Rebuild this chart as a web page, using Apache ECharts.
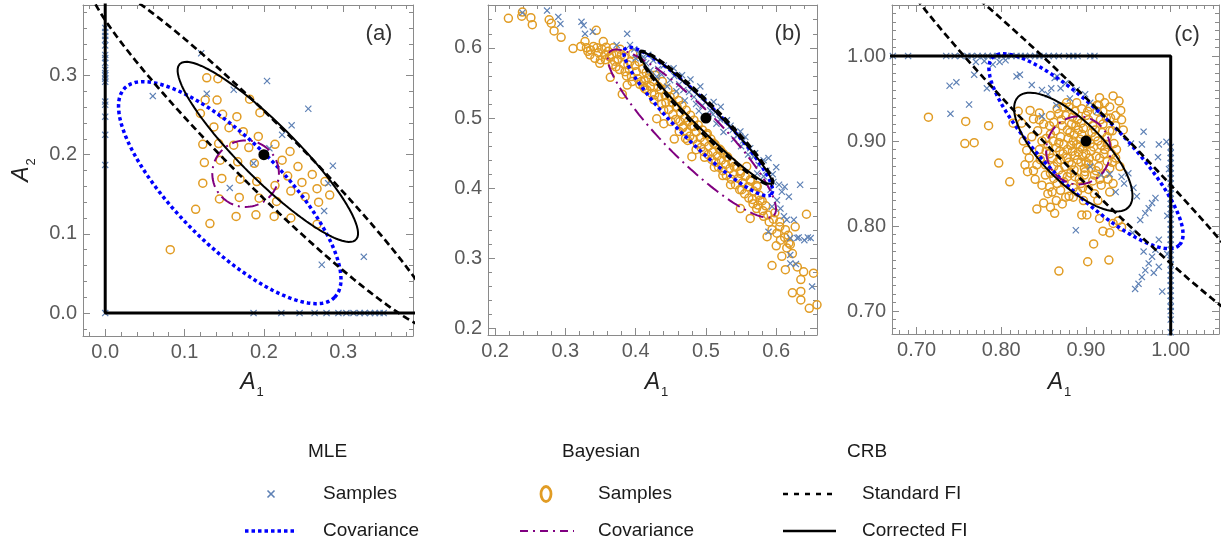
<!DOCTYPE html>
<html><head><meta charset="utf-8">
<script src="https://cdn.jsdelivr.net/npm/echarts@6/dist/echarts.min.js"></script>
<style>html,body{margin:0;padding:0;background:#fff}#c{width:1231px;height:546px}</style>
</head><body><div id="c"></div>
<script>
// ---------- tick labels ----------
const ticksA = [0.0, 0.1, 0.2, 0.3];
const ticksB = [0.2, 0.3, 0.4, 0.5, 0.6];
const ticksC = [0.70, 0.80, 0.90, 1.00];
const panelLabels = ['(a)', '(b)', '(c)'];

// ---------- panel (a) ----------
const mleA = [
[0,0],[0,0.187],[0,0.225],[0,0.248],[0,0.263],[0,0.267],[0,0.292],[0,0.296],[0,0.300],[0,0.303],[0,0.307],[0,0.316],[0,0.322],[0,0.326],[0,0.338],[0,0.345],[0,0.350],[0,0.355],[0,0.360],
[0.187,0],[0.222,0],[0.245,0],[0.264,0],[0.279,0],[0.294,0],[0.304,0],[0.313,0],[0.321,0],[0.327,0],[0.334,0],[0.340,0],[0.346,0],[0.351,0],
[0.121,0.328],[0.128,0.277],[0.060,0.274],[0.162,0.282],[0.204,0.293],[0.256,0.258],[0.235,0.237],[0.223,0.225],[0.207,0.208],[0.187,0.189],[0.157,0.158],[0.287,0.186],[0.276,0.129],[0.273,0.061],[0.326,0.071],[0.281,0.164]
];
const bayesA = [
[0.128,0.297],[0.142,0.296],[0.126,0.269],[0.141,0.269],[0.120,0.252],[0.148,0.251],[0.166,0.248],[0.182,0.270],[0.195,0.253],[0.137,0.235],
[0.156,0.234],[0.174,0.229],[0.193,0.223],[0.123,0.213],[0.143,0.214],[0.162,0.212],[0.181,0.209],[0.214,0.213],[0.125,0.190],[0.145,0.193],
[0.167,0.191],[0.188,0.189],[0.223,0.193],[0.233,0.204],[0.243,0.185],[0.123,0.164],[0.147,0.170],[0.170,0.169],[0.191,0.166],[0.214,0.161],
[0.230,0.173],[0.248,0.165],[0.261,0.175],[0.277,0.166],[0.267,0.157],[0.283,0.149],[0.144,0.144],[0.169,0.146],[0.194,0.145],[0.216,0.141],
[0.234,0.154],[0.252,0.147],[0.269,0.140],[0.114,0.131],[0.132,0.113],[0.165,0.122],[0.190,0.124],[0.213,0.122],[0.234,0.120],[0.267,0.112],
[0.082,0.080]
];
// ellipses: [cx, cy, semi-major, semi-minor, angle(deg)]
const covMleA = [0.157, 0.152, 0.187, 0.066, -45];
const covBayesA = [0.177, 0.176, 0.042, 0.042, 0];
const stdFiA = [0.200, 0.200, 0.310, 0.0396, -45];
const corFiA = [0.205, 0.2035, 0.157, 0.035, -45];
const boundA = [[0, 0.45], [0, 0], [0.45, 0]];
const trueA = [[0.2, 0.2]];

// ---------- panel (b) ----------
const mleB = [
[0.239,0.650],[0.274,0.653],[0.290,0.644],[0.293,0.634],[0.323,0.637],[0.326,0.632],[0.339,0.623],[0.328,0.620],[0.388,0.620],[0.373,0.604],
[0.392,0.604],[0.411,0.587],[0.398,0.598],[0.405,0.592],[0.418,0.590],[0.425,0.582],[0.440,0.575],[0.454,0.571],[0.466,0.561],[0.478,0.555],
[0.492,0.545],[0.497,0.530],[0.511,0.523],[0.521,0.516],[0.535,0.489],[0.549,0.481],[0.556,0.473],[0.563,0.457],[0.582,0.440],[0.589,0.443],
[0.596,0.409],[0.604,0.405],[0.618,0.388],[0.634,0.405],[0.649,0.329],[0.632,0.330],[0.620,0.329],[0.611,0.360],[0.615,0.355],[0.606,0.371],
[0.620,0.305],[0.620,0.293],[0.628,0.292],[0.651,0.260],[0.601,0.383],[0.592,0.398],[0.582,0.417],[0.573,0.421],[0.568,0.445],[0.530,0.497],
[0.506,0.511],[0.483,0.530],[0.468,0.540],[0.449,0.554],[0.430,0.559],[0.421,0.568],[0.445,0.545],[0.458,0.538],[0.470,0.525],[0.490,0.510],
[0.500,0.502],[0.515,0.492],[0.525,0.480],[0.540,0.470],[0.550,0.460],[0.560,0.448],[0.575,0.433],[0.586,0.425],[0.462,0.548],[0.476,0.537],
[0.486,0.520],[0.495,0.518],[0.510,0.505],[0.520,0.498],[0.538,0.483],[0.545,0.476],[0.553,0.468],[0.570,0.450],[0.595,0.420],[0.608,0.395],
[0.589,0.338],[0.594,0.374],[0.625,0.355],[0.630,0.329],[0.400,0.585],[0.432,0.570],[0.415,0.578],[0.437,0.562],[0.455,0.560],[0.600,0.430],
[0.612,0.402],[0.640,0.326],[0.645,0.330]
];
const bayesB = [
[0.219,0.642],[0.239,0.651],[0.238,0.645],[0.251,0.643],[0.253,0.633],[0.277,0.640],[0.280,0.635],[0.284,0.624],[0.294,0.615],[0.311,0.599],
[0.322,0.602],[0.328,0.609],[0.332,0.595],[0.340,0.602],[0.344,0.625],[0.342,0.585],[0.349,0.578],[0.354,0.609],[0.356,0.590],[0.361,0.595],
[0.366,0.590],[0.373,0.592],[0.375,0.583],[0.380,0.590],[0.364,0.558],[0.381,0.534],[0.388,0.547],[0.385,0.566],[0.389,0.576],[0.394,0.559],
[0.401,0.566],[0.408,0.552],[0.413,0.542],[0.418,0.557],[0.423,0.535],[0.336,0.597],[0.345,0.600],[0.350,0.583],[0.358,0.601],[0.368,0.600],
[0.370,0.581],[0.378,0.598],[0.384,0.587],[0.392,0.580],[0.396,0.592],[0.399,0.575],[0.405,0.580],[0.410,0.570],[0.415,0.565],[0.420,0.562],
[0.425,0.552],[0.428,0.561],[0.432,0.545],[0.436,0.540],[0.438,0.552],[0.442,0.532],[0.446,0.541],[0.449,0.530],[0.452,0.522],[0.455,0.533],
[0.458,0.516],[0.461,0.525],[0.464,0.508],[0.466,0.518],[0.470,0.500],[0.472,0.511],[0.475,0.495],[0.478,0.504],[0.480,0.488],[0.483,0.497],
[0.486,0.480],[0.489,0.490],[0.492,0.472],[0.495,0.483],[0.498,0.466],[0.501,0.476],[0.504,0.460],[0.507,0.470],[0.510,0.452],[0.513,0.462],
[0.516,0.446],[0.519,0.456],[0.522,0.440],[0.525,0.449],[0.528,0.434],[0.531,0.444],[0.534,0.428],[0.537,0.437],[0.540,0.420],[0.543,0.430],
[0.546,0.414],[0.549,0.424],[0.552,0.408],[0.556,0.417],[0.560,0.402],[0.564,0.410],[0.568,0.396],[0.572,0.404],[0.576,0.390],[0.580,0.382],
[0.585,0.375],[0.440,0.511],[0.430,0.499],[0.440,0.492],[0.426,0.526],[0.411,0.545],[0.459,0.516],[0.468,0.488],[0.471,0.471],[0.483,0.488],
[0.502,0.478],[0.511,0.464],[0.521,0.454],[0.530,0.445],[0.540,0.431],[0.549,0.421],[0.558,0.431],[0.563,0.412],[0.573,0.402],[0.551,0.398],
[0.577,0.383],[0.549,0.371],[0.563,0.357],[0.582,0.360],[0.594,0.341],[0.587,0.331],[0.601,0.336],[0.613,0.341],[0.606,0.326],[0.615,0.315],
[0.608,0.303],[0.623,0.307],[0.594,0.290],[0.613,0.284],[0.630,0.288],[0.639,0.281],[0.635,0.270],[0.653,0.279],[0.623,0.251],[0.635,0.253],
[0.635,0.241],[0.647,0.229],[0.658,0.234],[0.643,0.363],[0.627,0.345],[0.590,0.352],[0.598,0.365],[0.605,0.352],[0.617,0.333],[0.620,0.320],
[0.600,0.318],[0.572,0.371],[0.566,0.384],[0.535,0.405],[0.524,0.418],[0.512,0.430],[0.498,0.444],[0.486,0.455],[0.474,0.468],[0.462,0.481],
[0.450,0.495],[0.480,0.445],[0.455,0.470],
[0.330,0.600],[0.335,0.590],[0.347,0.593],[0.352,0.598],[0.357,0.583],[0.363,0.587],[0.367,0.576],[0.372,0.573],[0.377,0.569],[0.383,0.577],
[0.387,0.560],[0.391,0.569],[0.395,0.552],[0.403,0.556],[0.406,0.548],[0.412,0.553],[0.416,0.540],[0.421,0.545],[0.427,0.533],[0.433,0.530],
[0.437,0.520],[0.443,0.522],[0.447,0.512],[0.453,0.505],[0.457,0.498],[0.463,0.495],[0.467,0.486],[0.473,0.480],[0.477,0.474],[0.482,0.470],
[0.488,0.463],[0.493,0.458],[0.497,0.452],[0.503,0.448],[0.508,0.441],[0.514,0.437],[0.518,0.430],[0.524,0.425],[0.529,0.418],[0.536,0.413],
[0.542,0.405],[0.548,0.398],[0.555,0.392],[0.561,0.386],[0.567,0.378],[0.574,0.376],[0.581,0.368],[0.588,0.362],[0.596,0.356],[0.605,0.345],
[0.612,0.330],[0.618,0.322]
];
const covMleB = [0.489, 0.495, 0.147, 0.028, -45];
const covBayesB = [0.480, 0.478, 0.165, 0.038, -45];
const stdFiB = [0.500, 0.500, 0.134, 0.019, -45];
const corFiB = [0.500, 0.500, 0.132, 0.016, -45];
const trueB = [[0.5, 0.5]];

// ---------- panel (c) ----------
const mleC = [
[0.672,1],[0.690,1],[0.735,1],[0.745,1],[0.752,1],[0.760,1],[0.765,1],[0.772,1],[0.778,1],[0.784,1],[0.790,1],[0.795,1],[0.800,1],[0.806,1],[0.812,1],
[0.818,1],[0.823,1],[0.828,1],[0.834,1],[0.840,1],[0.845,1],[0.850,1],[0.856,1],[0.862,1],[0.868,1],[0.880,1],[0.885,1],[0.890,1],[0.905,1],[0.910,1],
[1,0.675],[1,0.690],[1,0.700],[1,0.705],[1,0.712],[1,0.718],[1,0.724],[1,0.730],[1,0.736],[1,0.742],[1,0.748],[1,0.755],[1,0.760],[1,0.766],[1,0.772],
[1,0.778],[1,0.784],[1,0.790],[1,0.796],[1,0.802],[1,0.808],[1,0.814],[1,0.820],[1,0.826],[1,0.832],[1,0.838],[1,0.844],[1,0.850],[1,0.856],[1,0.862],
[1,0.868],[1,0.874],[1,0.880],[1,0.886],[1,0.893],
[0.739,0.965],[0.747,0.969],[0.768,0.978],[0.783,0.962],[0.798,0.993],[0.818,0.976],[0.822,0.978],[0.836,0.966],[0.848,0.960],[0.859,0.962],
[0.863,0.974],[0.866,0.976],[0.881,0.950],[0.889,0.960],[0.899,0.955],[0.740,0.932],[0.762,0.943],[0.865,0.942],[0.848,0.929],[0.953,0.897],
[0.966,0.896],[0.985,0.881],[0.995,0.899],[0.888,0.795],[0.928,0.861],[0.958,0.726],[0.962,0.732],[0.966,0.740],[0.970,0.748],[0.974,0.756],
[0.978,0.764],[0.982,0.772],[0.986,0.784],[0.964,0.807],[0.970,0.815],[0.974,0.821],[0.978,0.827],[0.982,0.833],[0.956,0.845],[0.945,0.850],
[0.942,0.858],[0.950,0.862],[0.986,0.896],[0.968,0.911],[0.998,0.867],[0.996,0.812],[0.986,0.752],[0.996,0.767],[0.990,0.723],[0.980,0.745],
[0.790,0.990],[0.805,0.995],[0.780,0.994],[0.770,0.993],[0.876,0.968],[0.870,0.962],[0.855,0.955],[0.905,0.945],[0.913,0.935],[0.918,0.860],
[0.905,0.870],[0.935,0.840],[0.960,0.835],[0.955,0.792],[0.968,0.770]
];
const bayesC = [
[0.893,0.893],[0.885,0.900],[0.900,0.885],[0.878,0.890],[0.905,0.897],[0.890,0.878],[0.895,0.908],[0.870,0.905],[0.912,0.882],[0.880,0.875],
[0.907,0.910],[0.865,0.892],[0.918,0.895],[0.888,0.918],[0.898,0.868],[0.872,0.918],[0.915,0.870],[0.860,0.880],[0.925,0.905],[0.882,0.862],
[0.903,0.925],[0.868,0.866],[0.920,0.920],[0.876,0.930],[0.910,0.860],[0.858,0.908],[0.930,0.885],[0.892,0.855],[0.887,0.935],[0.862,0.922],
[0.928,0.868],[0.874,0.852],[0.913,0.935],[0.855,0.895],[0.933,0.897],[0.896,0.882],[0.884,0.888],[0.901,0.902],[0.889,0.896],[0.906,0.888],
[0.879,0.903],[0.894,0.875],[0.911,0.905],[0.873,0.885],[0.897,0.915],[0.916,0.880],[0.881,0.910],[0.903,0.873],[0.868,0.898],[0.922,0.890],
[0.890,0.925],[0.875,0.870],[0.908,0.918],[0.864,0.912],[0.925,0.876],[0.898,0.860],[0.883,0.920],[0.912,0.865],[0.870,0.878],[0.919,0.910],
[0.886,0.866],[0.900,0.930],[0.857,0.885],[0.931,0.912],[0.878,0.858],[0.905,0.940],[0.862,0.870],[0.935,0.880],[0.894,0.850],[0.880,0.940],
[0.891,0.887],[0.887,0.883],[0.896,0.891],[0.899,0.897],[0.882,0.895],[0.904,0.880],[0.893,0.902],[0.877,0.880],[0.909,0.893],[0.886,0.907],
[0.900,0.875],[0.874,0.896],[0.914,0.900],[0.891,0.913],[0.883,0.872],[0.906,0.868],[0.869,0.888],[0.921,0.885],[0.894,0.921],[0.878,0.913],
[0.911,0.913],[0.866,0.875],[0.925,0.896],[0.899,0.864],[0.884,0.928],[0.917,0.925],[0.871,0.925],[0.928,0.912],[0.861,0.900],[0.887,0.858],
[0.908,0.853],[0.872,0.860],[0.923,0.862],[0.857,0.918],[0.936,0.890],[0.895,0.938],[0.852,0.872],[0.929,0.927],[0.877,0.945],[0.915,0.942],
[0.866,0.850],[0.940,0.870],[0.896,0.845],[0.853,0.903],[0.880,0.835],[0.845,0.890],[0.860,0.840],[0.910,0.838],[0.926,0.855],[0.845,0.925],
[0.890,0.840],[0.868,0.932],[0.902,0.935],[0.931,0.875],[0.858,0.862],[0.920,0.935],[0.935,0.918],[0.873,0.940],[0.889,0.945],[0.916,0.855],
[0.848,0.848],[0.857,0.846],[0.865,0.830],[0.876,0.834],[0.885,0.834],[0.897,0.830],[0.914,0.830],[0.928,0.840],[0.932,0.850],[0.852,0.860],
[0.842,0.872],[0.838,0.865],[0.846,0.878],[0.853,0.888],[0.848,0.900],[0.843,0.912],[0.850,0.920],[0.858,0.930],[0.866,0.938],[0.855,0.838],
[0.870,0.842],[0.885,0.845],[0.903,0.843],[0.918,0.848],[0.840,0.855],[0.862,0.856],
[0.820,0.935],[0.834,0.936],[0.824,0.921],[0.830,0.889],[0.828,0.872],[0.831,0.864],[0.814,0.921],[0.838,0.926],[0.845,0.933],[0.836,0.905],
[0.826,0.900],[0.833,0.880],
[0.916,0.951],[0.932,0.953],[0.939,0.947],[0.928,0.940],[0.941,0.936],[0.942,0.925],[0.944,0.913],[0.924,0.927],[0.913,0.942],[0.935,0.930],
[0.922,0.945],
[0.714,0.928],[0.758,0.923],[0.785,0.918],[0.757,0.897],[0.768,0.898],[0.797,0.874],[0.810,0.852],[0.842,0.820],[0.863,0.815],[0.868,0.747],
[0.902,0.758],[0.927,0.760],[0.909,0.779],[0.920,0.794],[0.928,0.792],[0.895,0.813],[0.901,0.813],[0.916,0.809],[0.942,0.799],[0.932,0.803],
[0.850,0.827],[0.858,0.822],[0.872,0.826],[0.938,0.806]
];
const covMleC = [0.900, 0.888, 0.156, 0.044, -45];
const covBayesC = [0.891, 0.889, 0.038, 0.040, 0];
const stdFiC = [0.900, 0.900, 0.340, 0.036, -45];
const corFiC = [0.885, 0.887, 0.092, 0.036, -45];
const boundC = [[0.6, 1], [1, 1], [1, 0.6]];
const trueC = [[0.9, 0.9]];

// ---------- styling ----------
const BLUE_S = '#5E81B5', ORANGE = '#E19C24', PURPLE = '#800080', BLUE = '#0000FF';
const FRAME = '#8a8a8a', LABEL = '#5a5a5a', FONT = 'Liberation Sans, Arial, sans-serif';
const XPATH = 'path://M0,1.2L1.2,0L5,3.8L8.8,0L10,1.2L6.2,5L10,8.8L8.8,10L5,6.2L1.2,10L0,8.8L3.8,5Z';

function ellipse(p) {
  const [cx, cy, a, b, deg] = p, th = deg * Math.PI / 180, out = [];
  for (let i = 0; i <= 180; i++) {
    const t = 2 * Math.PI * i / 180;
    out.push([cx + a * Math.cos(t) * Math.cos(th) - b * Math.sin(t) * Math.sin(th),
              cy + a * Math.cos(t) * Math.sin(th) + b * Math.sin(t) * Math.cos(th)]);
  }
  return out;
}
function minorTicks(lo, hi, step) {
  const out = []; let k = Math.ceil(lo / step - 1e-9);
  for (; k * step <= hi + 1e-9; k++) out.push(+(k * step).toFixed(4));
  return out;
}

const panels = [
  {grid: {left: 83, top: 5, width: 330, height: 331}, xr: [-0.028, 0.388], yr: [-0.029, 0.389], ticks: ticksA, step: 0.02, dec: 1,
   mle: mleA, bayes: bayesA, covM: covMleA, covB: covBayesA, std: stdFiA, cor: corFiA, bound: boundA, truth: trueA, lab: [379, 34]},
  {grid: {left: 488, top: 5, width: 329, height: 330}, xr: [0.19, 0.658], yr: [0.191, 0.661], ticks: ticksB, step: 0.02, dec: 1,
   mle: mleB, bayes: bayesB, covM: covMleB, covB: covBayesB, std: stdFiB, cor: corFiB, bound: null, truth: trueB, lab: [788, 34]},
  {grid: {left: 892, top: 5, width: 327, height: 329}, xr: [0.671, 1.057], yr: [0.673, 1.060], ticks: ticksC, step: 0.01, dec: 2,
   mle: mleC, bayes: bayesC, covM: covMleC, covB: covBayesC, std: stdFiC, cor: corFiC, bound: boundC, truth: trueC, lab: [1187, 35]}
];

const grids = [], xAxes = [], yAxes = [], series = [], graphics = [];
panels.forEach((p, gi) => {
  grids.push(Object.assign({containLabel: false}, p.grid));
  const mk = (range, pos, ticks, len, showLine, showLabel) => ({
    type: 'value', gridIndex: gi, min: range[0], max: range[1], position: pos,
    axisLine: {show: showLine, onZero: false, lineStyle: {color: FRAME, width: 1}},
    axisTick: {show: true, inside: true, length: len, customValues: ticks, lineStyle: {color: FRAME, width: 1}},
    axisLabel: {show: showLabel, customValues: p.ticks, formatter: v => v.toFixed(p.dec),
                color: LABEL, fontSize: 20, fontFamily: FONT, margin: 6},
    splitLine: {show: false}, silent: true
  });
  const minX = minorTicks(p.xr[0], p.xr[1], p.step), minY = minorTicks(p.yr[0], p.yr[1], p.step);
  const xi = xAxes.length, yi = yAxes.length;
  xAxes.push(mk(p.xr, 'bottom', p.ticks, 7, true, true), mk(p.xr, 'bottom', minX, 4, false, false),
             mk(p.xr, 'top', p.ticks, 7, true, false), mk(p.xr, 'top', minX, 4, false, false));
  yAxes.push(mk(p.yr, 'left', p.ticks, 7, true, true), mk(p.yr, 'left', minY, 4, false, false),
             mk(p.yr, 'right', p.ticks, 7, true, false), mk(p.yr, 'right', minY, 4, false, false));
  const ax = {xAxisIndex: xi, yAxisIndex: yi};
  const line = (data, color, width, dash, z) => Object.assign({
    type: 'line', data, showSymbol: false, symbol: 'none', silent: true, clip: true, z,
    lineStyle: {color, width, type: dash || 'solid', cap: 'butt', opacity: 1}
  }, ax);
  series.push(Object.assign({type: 'scatter', data: p.bayes, symbol: 'circle', symbolSize: 8, silent: true, z: 2,
    itemStyle: {color: 'rgba(255,255,255,0)', borderColor: ORANGE, borderWidth: 1.5, opacity: 1}}, ax));
  series.push(Object.assign({type: 'scatter', data: p.mle, symbol: XPATH, symbolSize: 7, silent: true, z: 3,
    itemStyle: {color: BLUE_S, opacity: 1}}, ax));
  series.push(line(ellipse(p.covM), BLUE, 3.5, [3.5, 3], 4));
  series.push(line(ellipse(p.covB), PURPLE, 2, [14, 5, 2, 5], 5));
  series.push(line(ellipse(p.std), '#000', 2.7, [7, 4], 6));
  series.push(line(ellipse(p.cor), '#000', 2, null, 7));
  if (p.bound) series.push(line(p.bound, '#000', 3, null, 7));
  series.push(Object.assign({type: 'scatter', data: p.truth, symbol: 'circle', symbolSize: 11, silent: true, z: 9,
    itemStyle: {color: '#000', opacity: 1}}, ax));
  graphics.push({type: 'text', x: p.lab[0], y: p.lab[1], z: 20,
    style: {text: panelLabels[gi], fill: '#333', font: '22px ' + FONT, align: 'center', verticalAlign: 'middle'}});
  graphics.push({type: 'text', x: p.grid.left + p.grid.width / 2 + 4, y: 383, z: 20,
    style: {text: '{a|A}{s|1}', align: 'center', verticalAlign: 'middle',
      rich: {a: {fontSize: 23, fontStyle: 'italic', fontFamily: FONT, fill: '#222', verticalAlign: 'bottom'},
             s: {fontSize: 13, fontFamily: FONT, fill: '#222', verticalAlign: 'bottom', padding: [0, 0, -4, 1]}}}});
});
graphics.push({type: 'text', x: 22, y: 170, rotation: Math.PI / 2, z: 20,
  style: {text: '{a|A}{s|2}', align: 'center', verticalAlign: 'middle',
    rich: {a: {fontSize: 23, fontStyle: 'italic', fontFamily: FONT, fill: '#222', verticalAlign: 'bottom'},
           s: {fontSize: 13, fontFamily: FONT, fill: '#222', verticalAlign: 'bottom', padding: [0, 0, -4, 1]}}}});

// ---------- legend ----------
const LEG_FONT = '19px ' + FONT, LEG_COL = '#1a1a1a';
const legendHeaders = [['MLE', 308], ['Bayesian', 562], ['CRB', 847]];
const legendItems = [['Samples', 323, 494], ['Covariance', 323, 531], ['Samples', 598, 494], ['Covariance', 598, 531],
                     ['Standard FI', 862, 494], ['Corrected FI', 862, 531]];
legendHeaders.forEach(h => graphics.push({type: 'text', x: h[1], y: 452,
  style: {text: h[0], font: LEG_FONT, fill: LEG_COL, verticalAlign: 'middle'}}));
legendItems.forEach(h => graphics.push({type: 'text', x: h[1], y: h[2],
  style: {text: h[0], font: LEG_FONT, fill: LEG_COL, verticalAlign: 'middle'}}));
graphics.push(
  {type: 'line', shape: {x1: 267.5, y1: 490.5, x2: 274.5, y2: 497.5}, style: {stroke: BLUE_S, lineWidth: 1.6}},
  {type: 'line', shape: {x1: 274.5, y1: 490.5, x2: 267.5, y2: 497.5}, style: {stroke: BLUE_S, lineWidth: 1.6}},
  {type: 'line', shape: {x1: 245, y1: 531, x2: 296, y2: 531}, style: {stroke: BLUE, lineWidth: 3.5, lineDash: [3.5, 3]}},
  {type: 'ellipse', shape: {cx: 546, cy: 494, rx: 5, ry: 7.5}, style: {stroke: ORANGE, lineWidth: 2.8, fill: 'none'}},
  {type: 'line', shape: {x1: 520, y1: 531, x2: 574, y2: 531}, style: {stroke: PURPLE, lineWidth: 2, lineDash: [8, 5, 2, 5]}},
  {type: 'line', shape: {x1: 783, y1: 494, x2: 834, y2: 494}, style: {stroke: '#000', lineWidth: 2.5, lineDash: [5, 6]}},
  {type: 'line', shape: {x1: 783, y1: 531, x2: 836, y2: 531}, style: {stroke: '#000', lineWidth: 2.5}}
);

const chart = echarts.init(document.getElementById('c'), null, {renderer: 'canvas'});
chart.setOption({
  animation: false, backgroundColor: '#fff',
  grid: grids, xAxis: xAxes, yAxis: yAxes, series, graphic: graphics
});
</script></body></html>
